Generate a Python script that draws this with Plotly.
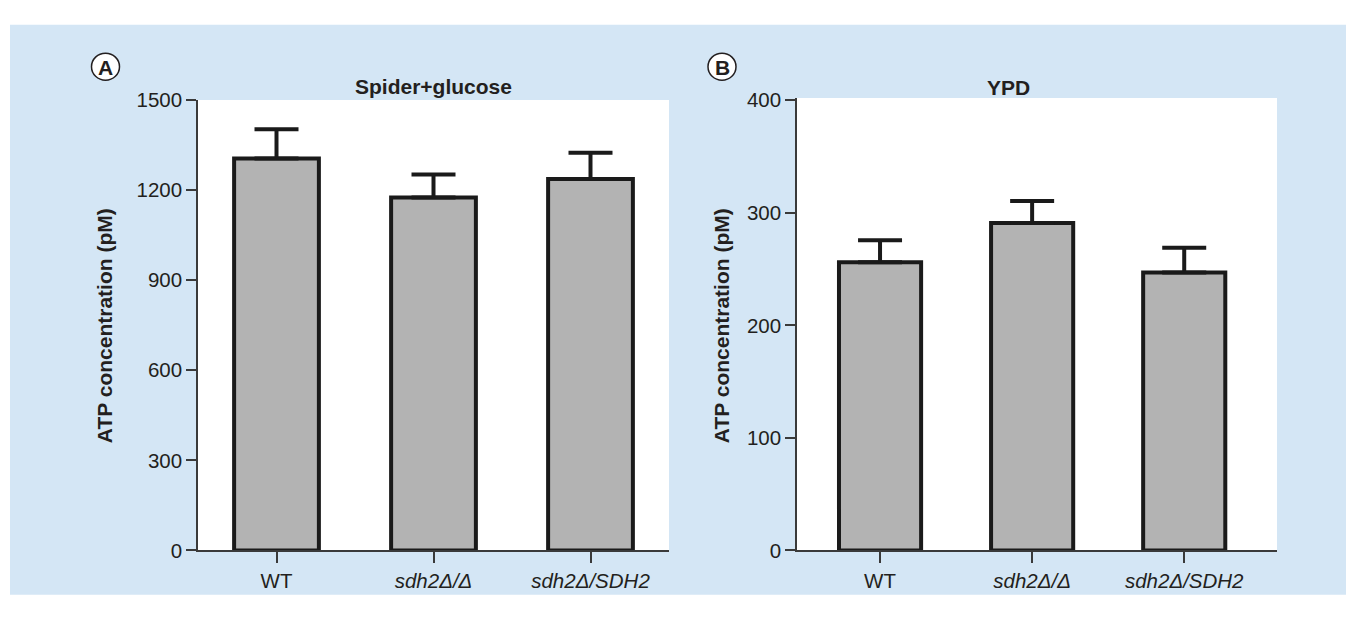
import plotly.graph_objects as go

W, H = 1356, 617
OFF = 8  # page body margin offset in the rendered view

categories = ["WT", "sdh2Δ/Δ", "sdh2Δ/SDH2"]
tick_labels = ["WT", "<i>sdh2Δ/Δ</i>", "<i>sdh2Δ/SDH2</i>"]

spider_mean = [1305, 1175, 1237]
spider_upper = [1402, 1252, 1324]
ypd_mean = [256, 291, 247]
ypd_upper = [275.5, 310.5, 269]

spider_ticks = [0, 300, 600, 900, 1200, 1500]
ypd_ticks = [0, 100, 200, 300, 400]

FONT = "Liberation Sans, Arial, sans-serif"
TXT = "#231F20"
BG = "#D4E6F5"
AX = "#3a3a3a"


def px_x(p):
    return (p - OFF) / W


def px_y(p):
    return 1 - (p - OFF) / H


fig = go.Figure()

for mean, upper, xa, ya in [
    (spider_mean, spider_upper, "x", "y"),
    (ypd_mean, ypd_upper, "x2", "y2"),
]:
    fig.add_trace(go.Bar(
        x=list(range(len(categories))), y=mean,
        width=0.54,
        marker=dict(color="#B3B3B3", line=dict(color="#1a1a1a", width=4)),
        error_y=dict(type="data", symmetric=False,
                     array=[u - m for u, m in zip(upper, mean)],
                     arrayminus=[0] * len(mean),
                     color="#1a1a1a", thickness=4, width=22),
        xaxis=xa, yaxis=ya, showlegend=False, hoverinfo="skip",
    ))

axis_common = dict(showgrid=False, zeroline=False, showline=True, linecolor=AX,
                   linewidth=1.5, ticks="outside", tickcolor=AX, tickwidth=1.5,
                   tickfont=dict(family=FONT, size=20.5, color=TXT), fixedrange=True)

fig.update_layout(
    width=W, height=H,
    margin=dict(l=0, r=0, t=0, b=0),
    paper_bgcolor="white", plot_bgcolor="white",
    xaxis=dict(domain=[px_x(198), px_x(669)], range=[-0.5, 2.5],
               tickvals=[0, 1, 2], ticktext=tick_labels, ticklen=11,
               anchor="y", **axis_common),
    yaxis=dict(domain=[px_y(559), px_y(91)], range=[0, 1500],
               tickvals=spider_ticks, ticklen=10, anchor="x", **axis_common),
    xaxis2=dict(domain=[px_x(797), px_x(1277)], range=[-0.546, 2.61],
                tickvals=[0, 1, 2], ticktext=tick_labels, ticklen=11,
                anchor="y2", **axis_common),
    yaxis2=dict(domain=[px_y(559), px_y(89)], range=[0, 402],
                tickvals=ypd_ticks, ticklen=10, anchor="x2", **axis_common),
)

shapes = [
    dict(type="rect", xref="paper", yref="paper", x0=px_x(10), x1=px_x(1346),
         y0=px_y(605), y1=px_y(13), fillcolor=BG, line=dict(width=0), layer="below"),
    dict(type="rect", xref="x domain", yref="y domain", x0=0, x1=1, y0=0, y1=1,
         fillcolor="white", line=dict(width=0), layer="below"),
    dict(type="rect", xref="x2 domain", yref="y2 domain", x0=0, x1=1, y0=0, y1=1,
         fillcolor="white", line=dict(width=0), layer="below"),
]
for cx, cy in [(105.5, 56.5), (722, 56.5)]:
    r = 14
    shapes.append(dict(type="circle", xref="paper", yref="paper",
                       x0=px_x(cx - r), x1=px_x(cx + r), y0=px_y(cy + r), y1=px_y(cy - r),
                       fillcolor="white", line=dict(color=TXT, width=1.5), layer="above"))
fig.update_layout(shapes=shapes)

annotations = []
for txt, cx, cy in [("A", 105.5, 57.5), ("B", 722, 57.5)]:
    annotations.append(dict(text="<b>%s</b>" % txt, x=px_x(cx), y=px_y(cy), xref="paper", yref="paper",
                            showarrow=False, xanchor="center", yanchor="middle",
                            font=dict(family=FONT, size=21, color=TXT)))
for txt, cx, cy in [("Spider+glucose", 433, 77), ("YPD", 1008, 78)]:
    annotations.append(dict(text="<b>%s</b>" % txt, x=px_x(cx), y=px_y(cy), xref="paper", yref="paper",
                            showarrow=False, xanchor="center", yanchor="middle",
                            font=dict(family=FONT, size=21, color=TXT)))
for cx, cy in [(104, 326), (721, 325)]:
    annotations.append(dict(text="<b>ATP concentration (pM)</b>", x=px_x(cx), y=px_y(cy),
                            xref="paper", yref="paper", textangle=-90,
                            showarrow=False, xanchor="center", yanchor="middle",
                            font=dict(family=FONT, size=21, color=TXT)))
fig.update_layout(annotations=annotations)

fig.write_html("out.html")
